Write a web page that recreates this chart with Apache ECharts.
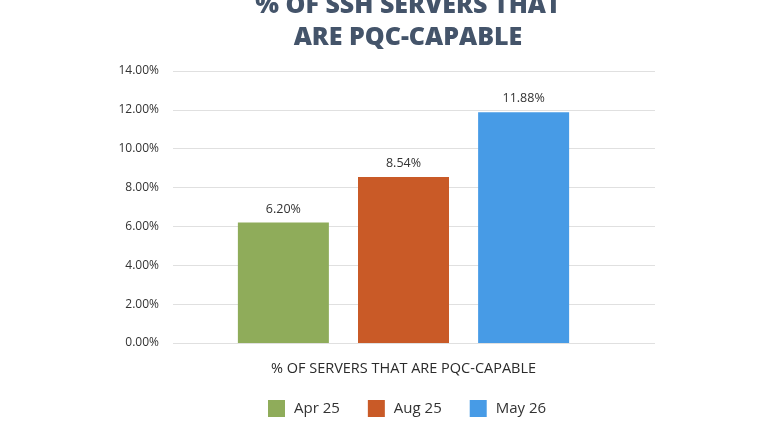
<!DOCTYPE html>
<html>
<head>
<meta charset="utf-8">
<script src="https://cdn.jsdelivr.net/npm/echarts@6/dist/echarts.min.js"></script>
<style>
  html, body { margin: 0; padding: 0; background: #fff; }
  #chart { width: 780px; height: 440px; }
</style>
</head>
<body>
<div id="chart"></div>
<script>
// data
const titleLines = ['% OF SSH SERVERS THAT', 'ARE PQC-CAPABLE']
const category = ['% OF SERVERS THAT ARE PQC-CAPABLE']
const periods = ['Apr 25', 'Aug 25', 'May 26']
const values = [6.20, 8.54, 11.88]
const colors = ['#8fac5a', '#c95a27', '#479be6']
const yTicks = { min: 0, max: 14, interval: 2 }

const pct = v => Number(v).toFixed(2) + '%'

let chart = echarts.init(document.getElementById('chart'), null, {renderer: 'canvas'})

// one series per period so each gets a legend entry
let barSeries = periods.map((name, i) => ({
    name: name,
    type: 'bar',
    xAxisIndex: 1,
    yAxisIndex: 1,
    data: [values[i]],
    barWidth: 91,
    barGap: '32%',
    itemStyle: { color: colors[i] },
    label: {
        show: true,
        position: 'top',
        distance: 7,
        formatter: p => pct(p.value),
        color: '#333',
        fontFamily: 'Open Sans',
        fontSize: 12.5
    }
}))

chart.setOption({
    animation: false,
    title: {
        text: titleLines.join('\n'),
        left: 403,
        textAlign: 'center',
        top: -15,
        textStyle: {
            fontFamily: 'Open Sans',
            fontWeight: 800,
            fontSize: 25,
            lineHeight: 32,
            color: '#44546a'
        }
    },
    legend: {
        bottom: 18,
        left: 263,
        itemWidth: 17,
        itemHeight: 17,
        itemGap: 28,
        icon: 'rect',
        data: periods,
        textStyle: {
            fontFamily: 'Open Sans',
            fontSize: 15,
            color: '#333',
            padding: [0, 0, 0, 4]
        }
    },
    grid: [
        // gridlines and y labels span the full width
        { left: 173, right: 125, top: 71, bottom: 97 },
        // bars sit a little left of centre, like the original
        { left: 173, right: 146, top: 71, bottom: 97 }
    ],
    xAxis: [
        { gridIndex: 0, type: 'value', min: 0, max: 1, show: false },
        {
            gridIndex: 1,
            type: 'category',
            data: category,
            axisLine: { show: false },
            axisTick: { show: false },
            axisLabel: {
                margin: 18,
                fontFamily: 'Open Sans',
                fontSize: 14.5,
                color: '#2b2b2b'
            }
        }
    ],
    yAxis: [
        {
            gridIndex: 0,
            type: 'value',
            min: yTicks.min,
            max: yTicks.max,
            interval: yTicks.interval,
            axisLine: { show: false },
            axisTick: { show: false },
            splitLine: { lineStyle: { color: '#e0e0e0', width: 1 } },
            axisLabel: {
                margin: 14,
                formatter: pct,
                fontFamily: 'Open Sans',
                fontSize: 12,
                color: '#333'
            }
        },
        {
            gridIndex: 1,
            type: 'value',
            min: yTicks.min,
            max: yTicks.max,
            interval: yTicks.interval,
            show: false,
            splitLine: { show: false }
        }
    ],
    series: barSeries
})
</script>
</body>
</html>
